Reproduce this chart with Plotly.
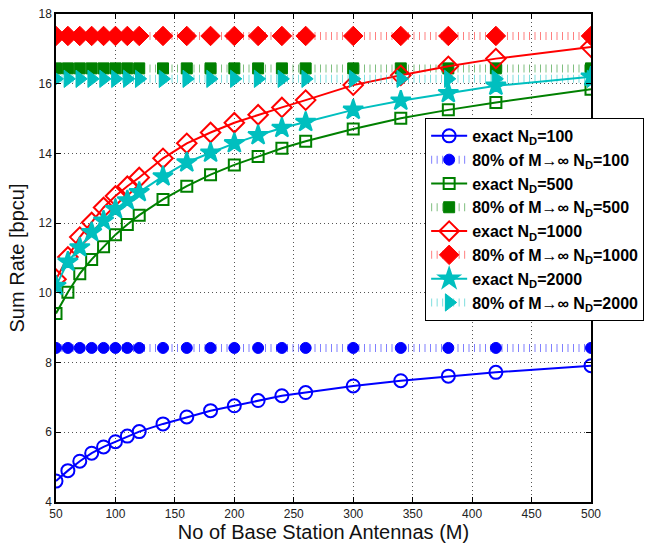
import plotly.graph_objects as go

M = [50, 60, 70, 80, 90, 100, 110, 120, 140, 160, 180, 200, 220, 240, 260, 300, 340, 380, 420, 500]

exact_100 = [4.6, 4.90, 5.17, 5.40, 5.58, 5.73, 5.89, 6.02, 6.24, 6.44, 6.62, 6.76, 6.91, 7.05, 7.14, 7.33, 7.48, 7.61, 7.72, 7.91]
exact_500 = [9.41, 10.02, 10.55, 10.96, 11.32, 11.67, 11.96, 12.23, 12.68, 13.06, 13.39, 13.67, 13.91, 14.15, 14.35, 14.70, 15.01, 15.25, 15.46, 15.84]
exact_1000 = [10.39, 11.03, 11.60, 12.02, 12.45, 12.78, 13.06, 13.31, 13.86, 14.29, 14.60, 14.88, 15.11, 15.32, 15.53, 15.96, 16.24, 16.50, 16.72, 17.05]
exact_2000 = [10.2, 10.89, 11.30, 11.74, 12.07, 12.40, 12.65, 12.89, 13.34, 13.74, 14.02, 14.29, 14.52, 14.73, 14.90, 15.25, 15.51, 15.73, 15.94, 16.20]

lim_100 = 8.42
lim_500 = 16.44
lim_1000 = 17.37
lim_2000 = 16.14

labels = ["exact N<sub>D</sub>=100", "80% of M\u2192\u221e N<sub>D</sub>=100",
          "exact N<sub>D</sub>=500", "80% of M\u2192\u221e N<sub>D</sub>=500",
          "exact N<sub>D</sub>=1000", "80% of M\u2192\u221e N<sub>D</sub>=1000",
          "exact N<sub>D</sub>=2000", "80% of M\u2192\u221e N<sub>D</sub>=2000"]

blue, green, red, cyan = "#0000ff", "#008000", "#ff0000", "#00bfbf"
light = {"#0000ff": "rgba(0,0,255,0.5)", "#008000": "rgba(0,128,0,0.5)",
         "#ff0000": "rgba(255,0,0,0.5)", "#00bfbf": "rgba(0,191,191,0.5)"}

fig = go.Figure()

series = [
    (exact_100, lim_100, blue, "circle-open", 13, "circle", 11),
    (exact_500, lim_500, green, "square-open", 11, "square", 11),
    (exact_1000, lim_1000, red, "diamond-open", 15, "diamond", 15),
    (exact_2000, lim_2000, cyan, "star", 15, "triangle-right", 15),
]

for i, (ex, lim, col, sym, sz, sym2, sz2) in enumerate(series):
    fig.add_trace(go.Scatter(x=M, y=ex, mode="lines+markers", name=labels[2 * i],
                             line=dict(color=col, width=2),
                             marker=dict(symbol=sym, size=sz, color=col,
                                         line=dict(color=col, width=2))))
    fig.add_trace(go.Scatter(x=M, y=[lim] * len(M), mode="lines+markers", name=labels[2 * i + 1],
                             line=dict(color=light[col], width=8, dash="1px,4.5px"),
                             marker=dict(symbol=sym2, size=sz2, color=col,
                                         line=dict(color=col, width=1))))

axis_common = dict(showline=True, linecolor="black", linewidth=1.5, mirror="ticks",
                   ticks="inside", ticklen=5, tickcolor="black",
                   showgrid=True, gridcolor="#555", griddash="1px,3px", gridwidth=1,
                   zeroline=False, tickfont=dict(family="Liberation Sans, Arial", size=12, color="#222"))

fig.update_xaxes(range=[50, 500], tickvals=[50, 100, 150, 200, 250, 300, 350, 400, 450, 500],
                 title=dict(text="No of Base Station Antennas (M)", standoff=4,
                            font=dict(family="Liberation Sans, Arial", size=20, color="#111")),
                 **axis_common)
fig.update_yaxes(range=[4, 18], tickvals=[4, 6, 8, 10, 12, 14, 16, 18],
                 title=dict(text="Sum Rate [bpcu]", standoff=8,
                            font=dict(family="Liberation Sans, Arial", size=20, color="#111")),
                 **axis_common)

fig.update_layout(
    width=659, height=547,
    margin=dict(l=56, r=68, t=7, b=45),
    plot_bgcolor="white", paper_bgcolor="white",
    legend=dict(x=0.69, y=0.787, xanchor="left", yanchor="top",
                bgcolor="white", bordercolor="black", borderwidth=1,
                font=dict(family="Liberation Sans, Arial", size=16, color="black", weight="bold"),
                itemwidth=36, tracegroupgap=0),
)

fig.write_html("out.html")
